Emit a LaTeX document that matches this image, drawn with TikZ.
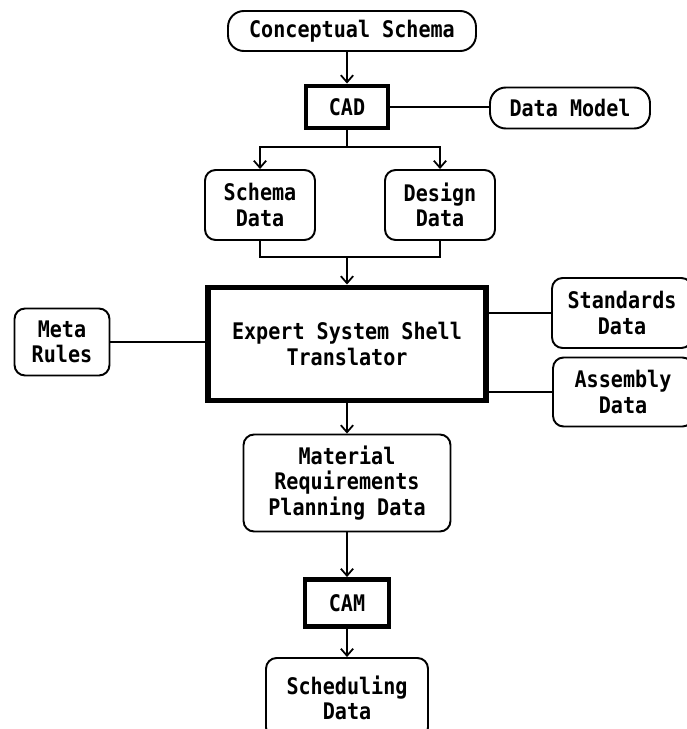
\documentclass[tikz,border=0pt]{standalone}
\usepackage{fontspec}
\newfontfamily\boxfont{DejaVu Sans Mono}[FakeStretch=0.88]
\usepackage{tikz}
\usetikzlibrary{positioning, arrows.meta}

\tikzset{
  databox/.style={draw=black, line width=1.1pt, rounded corners=6pt, align=center,
    inner sep=2pt, font=\boxfont\bfseries\fontsize{13}{14.6}\selectfont},
  pillbox/.style={databox, rounded corners=9pt},
  procbox/.style={databox, rounded corners=0pt, line width=2.8pt},
  arr/.style={-{Straight Barb[length=4pt, width=7pt]}},
  link/.style={draw=black, line width=1pt}
}

\begin{document}
\begin{tikzpicture}[x=0.02cm, y=-0.02cm]
  \useasboundingbox (0,0) rectangle (686,729);           % page frame
  % boxes
  \node [pillbox, minimum width=4.96cm, minimum height=0.80cm] (concept) at (352,31) {Conceptual Schema};
  \node [procbox, minimum width=1.64cm, minimum height=0.84cm] (cad) at (347,107) {CAD};
  \node [pillbox, minimum width=3.2cm, minimum height=0.82cm] (model) at (570,108) {Data Model};
  \node [databox, minimum width=2.2cm, minimum height=1.4cm] (schema) at (260,205) {Schema\\Data};
  \node [databox, minimum width=2.2cm, minimum height=1.4cm] (design) at (440,205) {Design\\Data};
  \node [procbox, line width=3.4pt, minimum width=5.56cm, minimum height=2.26cm] (expert) at (347,344) {Expert System Shell\\Translator};
  \node [databox, minimum width=1.9cm, minimum height=1.34cm] (meta) at (62,342) {Meta\\Rules};
  \node [databox, minimum width=2.8cm, minimum height=1.4cm] (standards) at (622,313) {Standards\\Data};
  \node [databox, minimum width=2.8cm, minimum height=1.38cm] (assembly) at (623,392) {Assembly\\Data};
  \node [databox, minimum width=4.14cm, minimum height=1.94cm] (mrp) at (347,483) {Material\\Requirements\\Planning Data};
  \node [procbox, minimum width=1.68cm, minimum height=0.94cm] (cam) at (347,603) {CAM};
  \node [databox, minimum width=3.24cm, minimum height=1.6cm] (sched) at (347,698) {Scheduling\\Data};
  % junctions
  \coordinate (split) at (347,147);
  \coordinate (merge) at (347,257);
  % connectors
  \draw [link, arr] (cad.north |- concept.south) -- (cad.north);        % schema into CAD
  \draw [link] (cad.east) -- (cad.east -| model.west);                  % data model
  \draw [link] (cad.south) -- (split);
  \draw [link, arr] (split) -| (schema.north);
  \draw [link, arr] (split) -| (design.north);
  \draw [link] (schema.south) |- (merge) -| (design.south);             % join outputs
  \draw [link, arr] (merge) -- (expert.north);
  \draw [link] (meta.east) -- (meta.east -| expert.west);               % meta rules
  \draw [link] (standards.west -| expert.east) -- (standards.west);
  \draw [link] (assembly.west -| expert.east) -- (assembly.west);
  \draw [link, arr] (expert.south) -- (mrp.north);
  \draw [link, arr] (mrp.south) -- (cam.north);
  \draw [link, arr] (cam.south) -- (sched.north);
\end{tikzpicture}
\end{document}
